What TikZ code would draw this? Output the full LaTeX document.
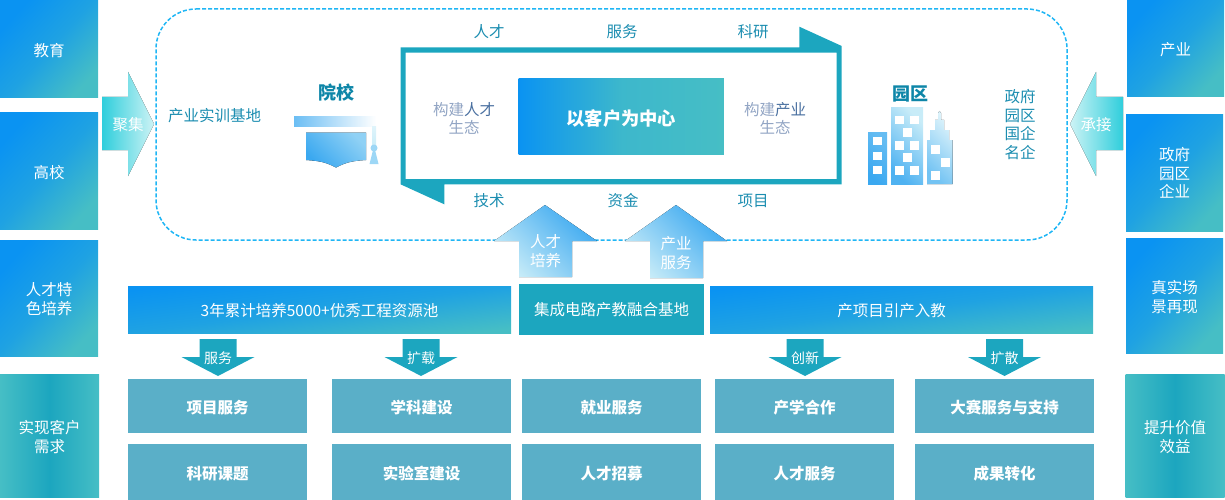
\documentclass[tikz,border=0pt]{standalone}
\usepackage{fontspec}
\setmainfont{Noto Sans CJK SC}
\usetikzlibrary{positioning}
\definecolor{deepblue}{HTML}{0A93F2}
\definecolor{paleteal}{HTML}{46BEC5}
\definecolor{midteal}{HTML}{1CA6BF}
\definecolor{softteal}{HTML}{5AAFC8}
\definecolor{labelteal}{HTML}{1B8DB0}
\definecolor{titleteal}{HTML}{0E86A8}
\definecolor{dashblue}{HTML}{1FB6F5}
\definecolor{skyblue}{HTML}{3AA8F0}
\definecolor{iceblue}{HTML}{C8ECF8}
\definecolor{aqua}{HTML}{2FCEDC}
\definecolor{paleaqua}{HTML}{CDF3F5}
\definecolor{greyblue}{HTML}{92A5C4}
\definecolor{inkblue}{HTML}{4A70A0}
\newcommand{\sizedtext}[1]{\fontsize{#1}{18.6}\selectfont}
% a taller first line pushes the text of a box down a little
\newcommand{\drop}{\rule{0pt}{15.8pt}}
\tikzset{
  bluebox/.style={inner sep=0pt, outer sep=0pt, align=center, text=white,
    font=\sizedtext{15.5}, left color=deepblue, right color=paleteal,
    middle color=paleteal!35!deepblue, shading angle=48},
  barbox/.style={bluebox, shading angle=7, minimum width=383pt, minimum height=47pt},
  bandbox/.style={inner sep=0pt, outer sep=0pt, align=center, text=white,
    font=\sizedtext{15.5}, left color=paleteal, right color=paleteal, middle color=midteal},
  itembox/.style={fill=softteal, inner sep=0pt, outer sep=0pt, minimum width=179pt,
    text=white, font=\sizedtext{15.5}\bfseries},
  tagtext/.style={text=labelteal, font=\sizedtext{15.5}, align=center, inner sep=0pt, yshift=-1pt},
  title/.style={text=titleteal, font=\sizedtext{18}\bfseries, inner sep=0pt, yshift=-0.5pt},
  arrowtext/.style={text=white, font=\sizedtext{15.5}, align=center, inner sep=0pt, yshift=-1pt},
  window/.style={fill=white, draw=none},
}
\begin{document}
\begin{tikzpicture}[x=1pt, y=-1pt]
  \useasboundingbox (0,0) rectangle (1225,500);

  % side columns
  \node (edu) [bluebox, minimum width=98pt, minimum height=97pt] at (49,49.5) {\drop 教育};
  \node (college) [bluebox, minimum width=98pt, minimum height=116pt] at (49,171) {\drop 高校};
  \node (talent) [bluebox, minimum width=98pt, minimum height=116pt] at (49,298) {\drop 人才特\\色培养};
  \node (demand) [bandbox, minimum width=99pt, minimum height=123pt] at (49.5,435.5) {\drop 实现客户\\需求};
  \node (industry) [bluebox, minimum width=97pt, minimum height=97pt] at (1175.5,48.5) {\drop 产业};
  \node (park) [bluebox, minimum width=97pt, minimum height=116pt] at (1174.5,173) {政府\\园区\\企业};
  \node (scene) [bluebox, minimum width=97pt, minimum height=115pt] at (1174.5,295.5) {\drop 真实场\\景再现};
  \node (value) [bandbox, minimum width=99pt, minimum height=123pt] at (1175,435.5) {\drop 提升价值\\效益};

  % side arrows
  \fill [left color=aqua, right color=paleaqua]
    (102,97) -- (128,97) -- (128,72) -- (154,124) -- (128,176) -- (128,150) -- (102,150) -- cycle;
  \node (gather) [arrowtext] at (128,124) {聚集};
  \fill [left color=paleaqua, right color=aqua]
    (1123,97) -- (1096,97) -- (1096,72) -- (1070,124) -- (1096,176) -- (1096,150) -- (1123,150) -- cycle;
  \node (accept) [arrowtext] at (1096,124) {承接};

  % dashed field
  \draw [dashblue, line width=1.5pt, dash pattern=on 4pt off 2pt, rounded corners=40pt]
    (156,9) -- (1067,9) -- (1067,240) -- (156,240) -- cycle;

  % centre frame with its two flags
  \fill [midteal, even odd rule]
    (400.5,47.3) -- (799.3,47.3) -- (799.3,26.7) -- (841.7,46) -- (841.7,184.3) -- (444.3,184.3)
    -- (444.3,204.3) -- (400.5,184.3) -- cycle
    (405.7,52.7) rectangle (836.7,179);
  \node (core) [inner sep=0pt, minimum width=205.3pt, minimum height=76.7pt, text=white,
    left color=deepblue, right color=paleteal, middle color=paleteal!85!deepblue,
    font=\sizedtext{18.3}\bfseries] at (621.3,116.6) {\rule{0pt}{19pt}以客户为中心};
  \node (talenteco) [tagtext] at (464,117.5) {\color{greyblue}构建\color{inkblue}人才\\\color{greyblue}生态};
  \node (industryeco) [tagtext] at (775,117.5) {\color{greyblue}构建\color{inkblue}产业\\\color{greyblue}生态};
  \foreach \name/\x/\y/\word in {t1/489/31/人才, t2/622/31/服务, t3/753/31/科研,
                                 b1/489/200/技术, b2/623/200/资金, b3/753/200/项目}
    \node (\name) [tagtext] at (\x,\y) {\word};

  % left of the field
  \node (base) [tagtext] at (214.5,115) {产业实训基地};
  \node (school) [title] at (336.5,92) {院校};
  \fill [left color=skyblue!75!white, right color=white] (294,117) rectangle (376,127);
  \fill [top color=iceblue!60!white, bottom color=iceblue] (372,127) rectangle (376,148);
  \fill [iceblue!70!skyblue] (374,148) circle (3.5pt);
  \fill [iceblue!70!skyblue] (373,150) -- (375,150) -- (378.5,164) -- (369.5,164) -- cycle;
  \fill [left color=skyblue, right color=iceblue!60!skyblue, shading angle=135]
    (306,132.5) -- (366,132.5) -- (366,160) .. controls (350,161) and (345,163) .. (336,167.5)
    .. controls (327,163) and (322,161) .. (306,160) -- cycle;

  % right of the field
  \node (parktitle) [title] at (910,93) {园区};
  \fill [left color=skyblue, right color=skyblue!70!iceblue, shading angle=135] (868,132.5) rectangle (887,184);
  \fill [left color=skyblue!85!iceblue, right color=iceblue, shading angle=135] (891,108) rectangle (923,184);
  \fill [left color=skyblue!60!iceblue, right color=iceblue!60!white, shading angle=135]
    (927,184) -- (927,140) -- (930,140) -- (930,130) -- (935,130) -- (935,120) -- (938,120) -- (938,113)
    -- (939.5,111) -- (941,113) -- (941,120) -- (944,120) -- (944,130) -- (949,130) -- (949,140)
    -- (952.5,140) -- (952.5,184) -- cycle;
  \foreach \x/\y in {873.3/136.5, 873.3/151.5, 873.3/165.5, 895/116, 910/116, 903/128, 895/141, 910/141,
                     903/153, 895/166, 910/166, 931/145, 941/158, 931/171}
    \fill [window] (\x,\y) rectangle +(8.5,8.5);
  \node (partners) [tagtext] at (1020,123.5) {政府\\园区\\国企\\名企};

  % arrows going up
  \fill [left color=iceblue, right color=skyblue, shading angle=135]
    (519,277) -- (519,241) -- (494,241) -- (545,205) -- (597,241) -- (572,241) -- (572,277) -- cycle;
  \node (train) [arrowtext] at (545.5,250) {人才\\培养};
  \fill [left color=iceblue, right color=skyblue, shading angle=135]
    (650,278) -- (650,241) -- (625,241) -- (676,205) -- (727,241) -- (703,241) -- (703,278) -- cycle;
  \node (serve) [arrowtext] at (676,252) {产业\\服务};

  % bars
  \node (pool) [barbox] at (319.5,309.5) {\drop 3年累计培养5000+优秀工程资源池};
  \node (hub) [inner sep=0pt, minimum width=185pt, minimum height=51pt, fill=midteal, text=white,
    font=\sizedtext{15.5}] at (611.5,309.5) {集成电路产教融合基地};
  \node (bring) [barbox] at (901.5,309.5) {\drop 产项目引产入教\hspace*{20pt}};

  % arrows going down
  \foreach \name/\x/\word in {down1/218/服务, down2/421/扩载, down3/805/创新, down4/1004.5/扩散} {
    \fill [midteal] (\x-18.5,339) -- (\x+18.5,339) -- (\x+18.5,357) -- (\x+36.5,357)
      -- (\x,376) -- (\x-36.5,357) -- (\x-18.5,357) -- cycle;
    \node (\name) [arrowtext, font=\sizedtext{14}] at (\x,357) {\word};
  }

  % lower grid
  \foreach \name/\x/\up/\low in {a/217.5/项目服务/科研课题, b/421.5/学科建设/实验室建设, c/611.5/就业服务/人才招募,
                                 d/804.5/产学合作/人才服务, e/1004.5/大赛服务与支持/成果转化} {
    \node (\name-1) [itembox, minimum height=54.5pt] at (\x,406) {\drop \up};
    \node (\name-2) [itembox, minimum height=56pt] at (\x,472) {\drop \low};
  }
\end{tikzpicture}
\end{document}
